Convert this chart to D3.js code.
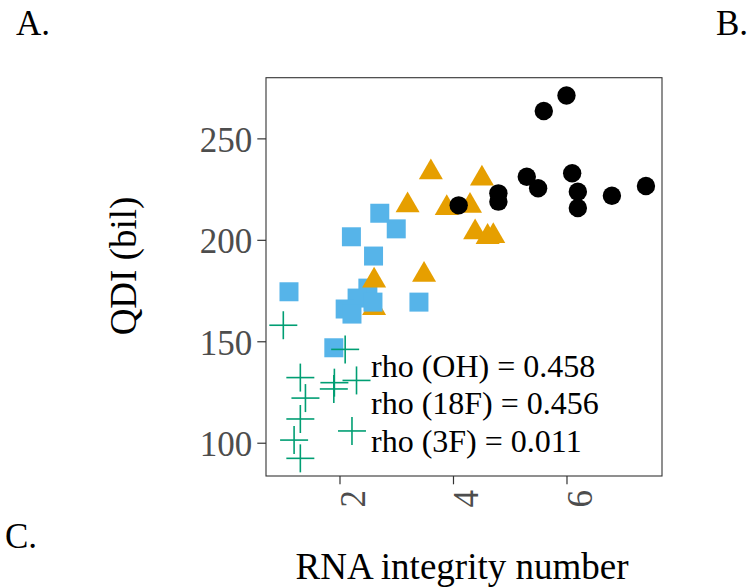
<!DOCTYPE html>
<html>
<head>
<meta charset="utf-8">
<script src="https://cdn.jsdelivr.net/npm/d3@7"></script>
<style>
  html, body { margin: 0; padding: 0; background: #fff; }
  svg { display: block; font-family: "Liberation Serif", "Times New Roman", serif; }
</style>
</head>
<body>
<svg id="chart" width="751" height="588"></svg>
<script>
// ---- data ----
const ohX  = [4.10, 4.80, 4.80, 5.30, 5.50, 5.60, 6.00, 6.10, 6.20, 6.20, 6.80, 7.40];
const ohY  = [217.0, 222.9, 218.8, 231.1, 225.4, 263.5, 271.1, 232.8, 223.7, 215.7, 221.7, 226.5];

const f18X = [3.61, 4.51, 3.20, 3.89, 4.30, 4.39, 4.61, 4.71, 3.49, 2.61, 2.61];
const f18Y = [233.3, 230.2, 217.0, 215.6, 216.8, 203.7, 201.4, 201.8, 182.7, 179.9, 166.4];

const f3sqX = [2.71, 3.00, 2.21, 2.60, 1.11, 3.40, 2.50, 2.31, 2.59, 2.10, 2.22, 1.90];
const f3sqY = [213.1, 205.4, 201.5, 192.0, 174.4, 169.3, 176.2, 171.3, 169.3, 165.9, 163.4, 146.8];

const f3X  = [1.01, 2.10, 1.31, 1.91, 1.90, 2.30, 1.40, 1.31, 2.22, 1.20, 1.31];
const f3Y  = [157.9, 146.0, 132.1, 129.6, 126.5, 130.7, 122.0, 111.7, 105.8, 101.3, 92.3];

const xTicks = [2, 4, 6];
const yTicks = [100, 150, 200, 250];
const xDomain = [0.705, 7.683];
const yDomain = [83.6, 279.9];

const rhoLabels = ["rho (OH) = 0.458", "rho (18F) = 0.456", "rho (3F) = 0.011"];
const panelLabels = ["A.", "B.", "C."];
const xTitle = "RNA integrity number";
const yTitle = "QDI (bil)";

// ---- layout ----
const svg = d3.select("#chart");
const P = { left: 266, right: 662, top: 77.7, bottom: 476 };

const x = d3.scaleLinear().domain(xDomain).range([P.left, P.right]);
const y = d3.scaleLinear().domain(yDomain).range([P.bottom, P.top]);

const colOH = "#000000", col18 = "#E69F00", colSq = "#56B4E9", col3 = "#009E73";

// panel labels
svg.append("text").attr("x", 16).attr("y", 35).attr("font-size", 35).text(panelLabels[0]);
svg.append("text").attr("x", 716).attr("y", 35).attr("font-size", 35).text(panelLabels[1]);
svg.append("text").attr("x", 5).attr("y", 548).attr("font-size", 35).text(panelLabels[2]);

// axes
const yAxis = d3.axisLeft(y).tickValues(yTicks).tickFormat(d3.format("d")).tickSize(8.7).tickPadding(5);
const xAxis = d3.axisBottom(x).tickValues(xTicks).tickFormat(d3.format("d")).tickSize(8.3);

const gy = svg.append("g").attr("transform", `translate(${P.left},0)`).call(yAxis);
gy.select(".domain").remove();
gy.selectAll(".tick line").attr("stroke", "#333").attr("stroke-width", 1.2);
gy.selectAll(".tick text")
  .attr("font-family", "'Liberation Serif', 'Times New Roman', serif")
  .attr("font-size", 35).attr("fill", "#4d4d4d")
  .attr("dy", null).attr("dominant-baseline", null)
  .attr("y", 12.8);

const gx = svg.append("g").attr("transform", `translate(0,${P.bottom})`).call(xAxis);
gx.select(".domain").remove();
gx.selectAll(".tick line").attr("stroke", "#333").attr("stroke-width", 1.2);
gx.selectAll(".tick text")
  .attr("font-family", "'Liberation Serif', 'Times New Roman', serif")
  .attr("font-size", 35).attr("fill", "#4d4d4d")
  .attr("dy", null).attr("y", null)
  .attr("text-anchor", "end")
  .attr("transform", "translate(25,14) rotate(-90)");

// panel border
svg.append("rect")
  .attr("x", P.left).attr("y", P.top)
  .attr("width", P.right - P.left).attr("height", P.bottom - P.top)
  .attr("fill", "none").attr("stroke", "#333").attr("stroke-width", 1.1);

const g = svg.append("g");

const triangle = d3.symbol().type(d3.symbolTriangle).size(24 * 24 * Math.sqrt(3) / 4);
const square = d3.symbol().type(d3.symbolSquare).size(19 * 19);
const circle = d3.symbol().type(d3.symbolCircle).size(Math.PI * 9.2 * 9.2);

const f18 = f18X.map((v, i) => ({ x: v, y: f18Y[i], i }));
const underIdx = [10]; // triangle partly hidden beneath the squares

// lower triangle(s) under the squares
g.selectAll("path.tri-under").data(f18.filter(d => underIdx.includes(d.i))).join("path")
  .attr("class", "tri-under")
  .attr("transform", d => `translate(${x(d.x)},${y(d.y)})`)
  .attr("d", triangle).attr("fill", col18);

// squares
g.selectAll("path.sq").data(f3sqX.map((v, i) => ({ x: v, y: f3sqY[i] }))).join("path")
  .attr("class", "sq")
  .attr("transform", d => `translate(${x(d.x)},${y(d.y)})`)
  .attr("d", square).attr("fill", colSq);

// triangles
g.selectAll("path.tri").data(f18.filter(d => !underIdx.includes(d.i))).join("path")
  .attr("class", "tri")
  .attr("transform", d => `translate(${x(d.x)},${y(d.y)})`)
  .attr("d", triangle).attr("fill", col18);

// circles
g.selectAll("path.circ").data(ohX.map((v, i) => ({ x: v, y: ohY[i] }))).join("path")
  .attr("class", "circ")
  .attr("transform", d => `translate(${x(d.x)},${y(d.y)})`)
  .attr("d", circle).attr("fill", colOH);

// crosses
const half = 14;
const crosses = g.selectAll("g.cross").data(f3X.map((v, i) => ({ x: v, y: f3Y[i] }))).join("g")
  .attr("class", "cross")
  .attr("transform", d => `translate(${x(d.x)},${y(d.y)})`);
crosses.append("line").attr("x1", -half).attr("x2", half).attr("y1", 0).attr("y2", 0)
  .attr("stroke", col3).attr("stroke-width", 1.6);
crosses.append("line").attr("x1", 0).attr("x2", 0).attr("y1", -half).attr("y2", half)
  .attr("stroke", col3).attr("stroke-width", 1.6);

// rho annotation
svg.selectAll("text.rho").data(rhoLabels).join("text")
  .attr("class", "rho")
  .attr("x", 371)
  .attr("y", (d, i) => 376.7 + i * 37.6)
  .attr("font-size", 32).attr("fill", "#000")
  .text(d => d);

// axis titles
svg.append("text")
  .attr("x", (P.left + P.right) / 2 - 2).attr("y", 579)
  .attr("text-anchor", "middle").attr("font-size", 37).text(xTitle);

svg.append("text")
  .attr("transform", `translate(136,266) rotate(-90)`)
  .attr("text-anchor", "middle").attr("font-size", 37).text(yTitle);
</script>
</body>
</html>
